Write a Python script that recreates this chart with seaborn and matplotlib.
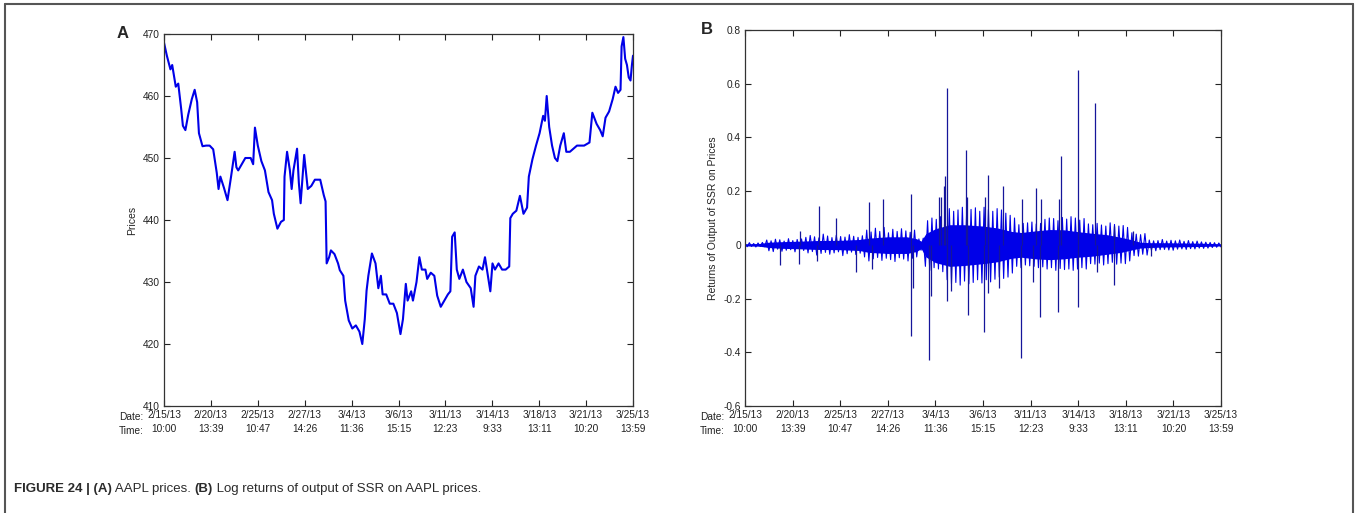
import numpy as np
import matplotlib
matplotlib.use("Agg")
import matplotlib.pyplot as plt
from matplotlib.lines import Line2D
import seaborn as sns

# ---------------- data ----------------
date_labels = ["2/15/13", "2/20/13", "2/25/13", "2/27/13", "3/4/13", "3/6/13",
               "3/11/13", "3/14/13", "3/18/13", "3/21/13", "3/25/13"]
time_labels = ["10:00", "13:39", "10:47", "14:26", "11:36", "15:15",
               "12:23", "9:33", "13:11", "10:20", "13:59"]

# Panel A: AAPL prices (time as % of the sample span)
price_t = [0, 0.61, 1.37, 1.75, 2.51, 3.04, 3.65, 4.03, 4.56, 5.17, 5.93, 6.54, 7.07, 7.45,
           8.21, 8.97, 9.73, 10.49, 11.25, 11.63, 12.02, 12.78, 13.54, 14.30, 15.06, 15.44,
           15.82, 16.58, 17.34, 18.48, 19.01, 19.39, 20.0, 20.76, 21.52, 22.28, 23.04, 23.42,
           24.18, 24.94, 25.55, 25.70, 26.24, 26.84, 27.22, 27.60, 28.37, 28.75, 29.13, 29.89,
           30.65, 31.41, 32.17, 33.31, 34.07, 34.45, 34.68, 35.21, 35.59, 36.35, 37.11, 37.49,
           38.25, 38.63, 39.39, 40.15, 40.91, 41.67, 42.28, 42.81, 43.19, 43.57, 44.33, 45.10,
           45.70, 46.24, 46.62, 47.38, 48.14, 48.90, 49.66, 50.42, 50.95, 51.56, 51.94, 52.70,
           53.08, 53.84, 54.45, 54.98, 55.74, 56.12, 56.88, 57.64, 58.25, 59.01, 59.77, 60.53,
           61.06, 61.44, 61.98, 62.43, 62.97, 63.73, 64.49, 65.40, 66.01, 66.39, 67.15, 67.91,
           68.44, 69.05, 69.58, 70.04, 70.57, 71.33, 72.09, 72.85, 73.61, 73.84, 74.37, 75.13,
           75.89, 76.65, 77.41, 77.79, 78.56, 79.32, 80.08, 80.84, 81.22, 81.60, 82.13, 82.74,
           83.35, 83.88, 84.49, 85.25, 85.78, 86.54, 87.30, 88.06, 88.82, 89.58, 90.72, 91.33,
           92.24, 93.00, 93.54, 94.14, 94.90, 95.67, 96.27, 96.81, 97.34, 97.57, 97.95, 98.33,
           98.71, 99.09, 99.47, 99.77, 100]
price_v = [468.6, 466.5, 464.3, 465, 461.5, 462, 458, 455.2, 454.5, 457, 459.5, 461, 459, 454,
           451.9, 452, 452, 451.4, 447.6, 445, 447, 445.2, 443.2, 447, 451, 448.5,
           448, 449, 450, 450, 449, 454.9, 452, 449.5, 448, 444.5, 443.2, 441,
           438.6, 439.7, 440, 447, 451, 448, 445, 448, 451.5, 446, 442.7, 450.5,
           445, 445.5, 446.5, 446.5, 444, 443, 433, 434, 435.1, 434.5, 433, 431.9,
           431, 427, 423.8, 422.5, 423, 422, 420, 424, 428.6, 431, 434.6, 433,
           429, 431, 428, 428, 426.5, 426.5, 425, 421.6, 424, 429.7, 427, 428.5,
           427, 430, 434, 432, 432, 430.5, 431.5, 431, 427.8, 426, 427, 428,
           428.5, 437.3, 438, 432, 430.5, 432, 430, 429, 426, 431, 432.5, 432,
           434, 431, 428.5, 433, 432, 433, 432, 432, 432.5, 440.3, 441, 441.5,
           443.9, 441, 442, 447, 449.8, 452, 454, 456.8, 456, 460, 455, 452,
           450, 449.5, 452, 454, 451, 451, 451.5, 452, 452, 452, 452.5, 457.3,
           455.5, 454.5, 453.5, 456.5, 457.5, 459.5, 461.5, 460.5, 461, 468, 469.5, 466,
           465, 463, 462.5, 465, 466.5]

# Panel B: returns, dense oscillating band read region by region
ret_band = [
    0.006, -0.007, 0.008, -0.006, 0.005, -0.008, 0.007, -0.006, 0.009, -0.007,
    0.018, -0.022, 0.015, -0.025, 0.021, -0.016, 0.019, -0.024, 0.014, -0.02, 0.023, -0.018,
    0.016, -0.026, 0.02, -0.015, 0.022, -0.021,
    0.028, -0.03, 0.035, -0.025, 0.03, -0.038, 0.026, -0.032, 0.04, -0.028, 0.033, -0.035,
    0.027, -0.03, 0.036, -0.026, 0.031, -0.04, 0.029, -0.033, 0.038, -0.027, 0.032, -0.036,
    0.028, -0.031, 0.034,
    -0.045, 0.055, -0.06, 0.048, -0.052, 0.062, -0.047, 0.05, -0.058, 0.065, -0.05, 0.045,
    -0.055, 0.058, -0.062, 0.05, -0.048, 0.06, -0.053, 0.052, -0.06, 0.047, -0.05, 0.055, -0.045,
    0.022, -0.02, 0.025,
    -0.08, 0.09, -0.095, 0.1, -0.085, 0.095, -0.09, 0.105, -0.1,
    0.12, -0.13, 0.135, -0.145, 0.125, -0.14, 0.13, -0.15, 0.14, -0.135, 0.128, -0.145,
    0.132, -0.14, 0.138, -0.13, 0.125, -0.142,
    0.14, -0.13, 0.132, -0.138, 0.125, -0.128, 0.135, -0.12, 0.13, -0.125, 0.118, -0.12,
    0.11, -0.105, 0.1,
    -0.08, 0.075, -0.085, 0.08, -0.075, 0.082, -0.078, 0.085, -0.08, 0.078, -0.085, 0.08, -0.082,
    0.095, -0.09, 0.1, -0.085, 0.098, -0.095, 0.09, -0.088, 0.102, -0.092, 0.096, -0.09,
    0.105, -0.095, 0.1, -0.09, 0.092, -0.085, 0.098, -0.09,
    0.078, -0.07, 0.075, -0.072, 0.08, -0.068, 0.074, -0.075, 0.07, -0.07, 0.082, -0.065,
    0.076, -0.072, 0.07, -0.068, 0.072, -0.07, 0.065, -0.06,
    0.045, -0.04, 0.04, -0.042, 0.038, -0.035, 0.042, -0.038,
    0.018, -0.02, 0.015, -0.022, 0.016, -0.018, 0.02, -0.017, 0.014, -0.019, 0.017, -0.02,
    0.015, -0.016, 0.018, -0.015, 0.013, -0.017, 0.016, -0.014, 0.012, -0.015, 0.014, -0.012,
    0.011, -0.013, 0.01, -0.012, 0.009, -0.01, 0.008, -0.009, 0.007, -0.008]

# solid core of the returns band (time %, upper, lower)
env_t = [0, 3, 5, 8, 12, 15, 20, 24, 26, 30, 34, 36, 37, 38, 40, 43, 46, 50, 53, 56, 58,
         61, 64, 67, 70, 73, 76, 79, 81, 83, 85, 88, 92, 96, 100]
env_hi = [0.004, 0.005, 0.01, 0.012, 0.014, 0.016, 0.017, 0.02, 0.025, 0.03, 0.03, 0.023,
          0.014, 0.042, 0.06, 0.075, 0.075, 0.07, 0.063, 0.05, 0.046, 0.052, 0.057, 0.056,
          0.049, 0.043, 0.038, 0.028, 0.02, 0.01, 0.008, 0.008, 0.007, 0.006, 0.004]
env_lo = [-0.004, -0.005, -0.01, -0.013, -0.015, -0.017, -0.018, -0.021, -0.028, -0.032,
          -0.032, -0.025, -0.014, -0.045, -0.066, -0.08, -0.077, -0.07, -0.063, -0.05, -0.046,
          -0.052, -0.055, -0.052, -0.046, -0.042, -0.035, -0.028, -0.02, -0.012, -0.01,
          -0.008, -0.007, -0.006, -0.004]

# isolated spikes in the returns (time %, value)
spike_t = [42.5, 42.1, 41.75, 41.2, 40.85, 34.86, 46.48, 46.7, 50.5, 51.05, 54.27, 58.25,
           61.17, 62.14, 65.97, 66.34, 69.87, 73.61, 29.01, 26.01, 15.6, 19.04, 77.5, 81.5, 11.47,
           7.42, 11.24, 15.14, 23.39, 26.76, 34.86, 35.38, 38.61, 39.13, 42.35, 43.25, 46.78,
           50.15, 51.12, 53.37, 58.02, 60.5, 62.0, 65.74, 69.87, 73.99, 77.59, 85.23]
spike_v = [0.585, 0.255, 0.22, 0.18, 0.18, 0.19, 0.355, 0.18, 0.18, 0.26, 0.22, 0.17,
           0.21, 0.17, 0.17, 0.33, 0.65, 0.53, 0.17, 0.16, 0.145, 0.10, 0.07, 0.05, 0.05,
           -0.075, -0.07, -0.06, -0.10, -0.09, -0.34, -0.16, -0.43, -0.19, -0.21, -0.17, -0.26,
           -0.325, -0.18, -0.16, -0.42, -0.14, -0.27, -0.25, -0.23, -0.10, -0.15, -0.04]

# ---------------- style ----------------
sns.set_style("ticks")
plt.rcParams["font.family"] = ["Liberation Sans", "DejaVu Sans"]
plt.rcParams["axes.unicode_minus"] = False

W, H = 1359, 513
fig = plt.figure(figsize=(W / 100, H / 100), dpi=100)
fig.patch.set_facecolor("white")

def fx(px):
    return px / W

def fy(py):
    return 1 - py / H

bottom = 406
axA = fig.add_axes([fx(164), fy(bottom), fx(633 - 164), (bottom - 34) / H])
axB = fig.add_axes([fx(745), fy(bottom), fx(1221 - 745), (bottom - 30) / H])

blue = "#0000e8"
navy = "#15159a"

sns.lineplot(x=price_t, y=price_v, ax=axA, color=blue, linewidth=1.5, estimator=None)

axB.fill_between(env_t, env_lo, env_hi, color=blue, linewidth=0)
ret_t = np.linspace(0, 100, len(ret_band))
sns.lineplot(x=ret_t, y=ret_band, ax=axB, color=blue, linewidth=0.8, estimator=None)
axB.vlines(spike_t, 0, spike_v, color=navy, linewidth=0.9)

tick_pos = np.linspace(0, 100, len(date_labels))
xtick_text = [f"{d}\n{t}" for d, t in zip(date_labels, time_labels)]

for ax in (axA, axB):
    ax.set_xlim(0, 100)
    ax.set_xticks(tick_pos)
    ax.set_xticklabels(xtick_text, linespacing=1.45)
    ax.tick_params(direction="in", top=True, right=True, length=4, width=0.8,
                   labelsize=7.3, colors="#222222", pad=3)
    for s in ax.spines.values():
        s.set_color("#333333")
        s.set_linewidth(0.9)
    ax.set_xlabel("")
    ax.annotate("Date:\nTime:", xy=(0, 0), xycoords="axes fraction",
                xytext=(-14.5, -4.4), textcoords="offset points",
                ha="right", va="top", fontsize=7.3, color="#222222", linespacing=1.45)

axA.set_ylim(410, 470)
axA.set_yticks([410, 420, 430, 440, 450, 460, 470])
axA.set_ylabel("Prices", fontsize=7.5, color="#222222", labelpad=4)

axB.set_ylim(-0.6, 0.8)
yB = [-0.6, -0.4, -0.2, 0, 0.2, 0.4, 0.6, 0.8]
axB.set_yticks(yB)
axB.set_yticklabels(["-0.6", "-0.4", "-0.2", "0", "0.2", "0.4", "0.6", "0.8"])
axB.set_ylabel("Returns of Output of SSR on Prices", fontsize=7.5, color="#222222", labelpad=4)

fig.text(fx(123), fy(33), "A", fontsize=12, fontweight="bold", ha="center", va="center")
fig.text(fx(707), fy(29), "B", fontsize=12, fontweight="bold", ha="center", va="center")

# frame around the figure (top, left, right)
frame_c = "#555555"
fig.add_artist(Line2D([fx(4.5), fx(1352.7)], [fy(4.3), fy(4.3)], transform=fig.transFigure,
                      color=frame_c, linewidth=1.5))
fig.add_artist(Line2D([fx(4.5), fx(4.5)], [0, fy(4.3)], transform=fig.transFigure,
                      color=frame_c, linewidth=1.5))
fig.add_artist(Line2D([fx(1352.7), fx(1352.7)], [0, fy(4.3)], transform=fig.transFigure,
                      color=frame_c, linewidth=1.5))

# caption with mixed weights
pieces = [("FIGURE 24 | (A)", "bold"), (" AAPL prices. ", "normal"), ("(B)", "bold"),
          (" Log returns of output of SSR on AAPL prices.", "normal")]
renderer = fig.canvas.get_renderer()
xpix = 14
for s, w in pieces:
    t = fig.text(fx(xpix), fy(489), s, fontsize=9.5, fontweight=w, color="#2b2b2b",
                 ha="left", va="center")
    bb = t.get_window_extent(renderer=renderer)
    xpix = bb.x1

fig.savefig("out.png", dpi=100, facecolor="white")
